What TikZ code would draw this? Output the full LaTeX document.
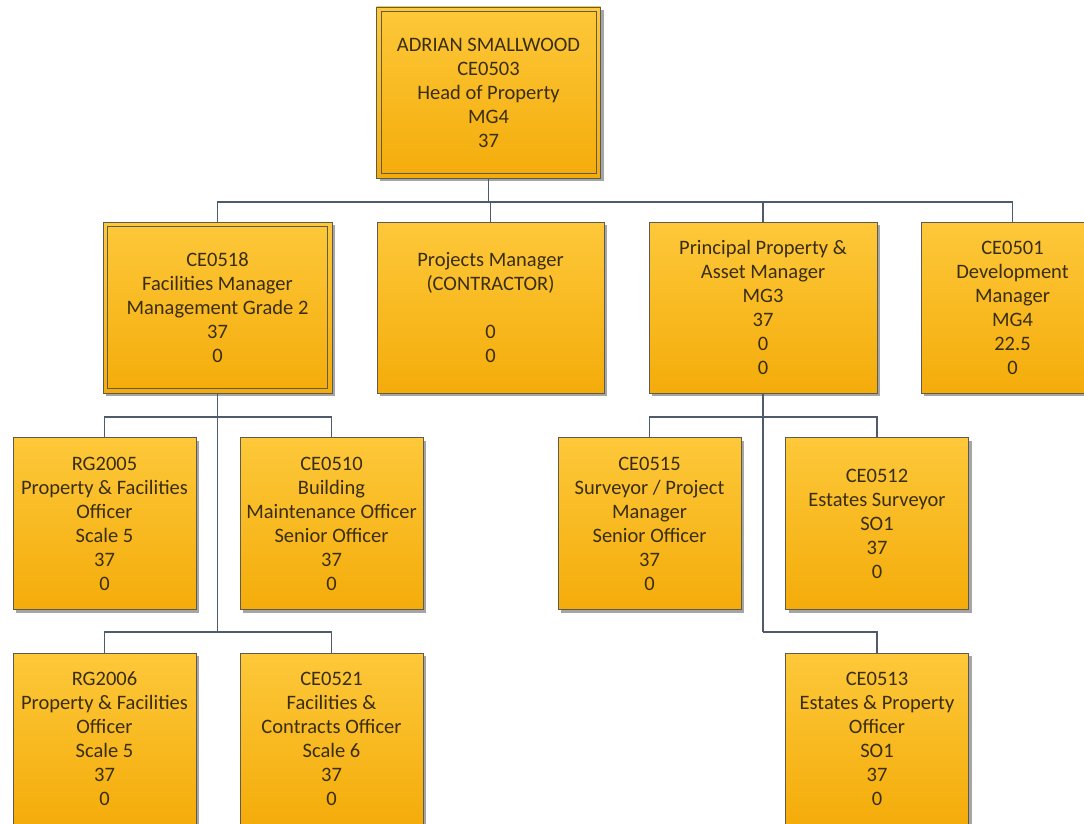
\documentclass[tikz,border=0pt]{standalone}
\usepackage{fontspec}
\setmainfont{Carlito}
\usetikzlibrary{shadows}
\definecolor{boxtop}{HTML}{FDC83A}
\definecolor{boxbot}{HTML}{F4AC0A}
\definecolor{boxborder}{HTML}{5E5A4C}
\definecolor{boxtext}{HTML}{3A2E12}
\definecolor{linkcol}{HTML}{4F5A6B}
\newcommand\orgboxfont{\fontsize{20.5}{24}\selectfont}
\tikzset{
  orgbox/.style={draw=boxborder, line width=0.9pt, top color=boxtop, bottom color=boxbot,
    text=boxtext, align=center, font=\orgboxfont, minimum height=172pt, inner sep=0pt,
    drop shadow={shadow xshift=3pt, shadow yshift=-3pt, opacity=0.5, fill=black!70}},
  widebox/.style={orgbox, minimum width=228pt},
  narrowbox/.style={orgbox, minimum width=183pt},
  innerframe/.style={draw=boxborder, line width=0.9pt},
  link/.style={draw=linkcol, line width=1.8pt}
}
\begin{document}
\begin{tikzpicture}[x=1pt,y=-1pt]
\clip (0,0) rectangle (1084,824);
\fill[white] (0,0) rectangle (1084,824);
% level 1
\node[widebox, minimum width=224pt, minimum height=171pt] (top) at (488.5,92.5)
  {ADRIAN SMALLWOOD\\CE0503\\Head of Property\\MG4\\37};
% level 2
\node[widebox, minimum width=229pt, minimum height=171pt] (fm) at (217.5,307.5)
  {CE0518\\Facilities Manager\\Management Grade 2\\37\\0};
\node[widebox, minimum width=227pt, minimum height=171pt] (pm) at (490.5,307.5)
  {Projects Manager\\(CONTRACTOR)\\\strut\\0\\0};
\node[widebox, minimum height=171pt] (ppam) at (763,307.5)
  {Principal Property \&\\Asset Manager\\MG3\\37\\0\\0};
\node[narrowbox, minimum height=171pt] (dm) at (1012.5,307.5)
  {CE0501\\Development\\Manager\\MG4\\22.5\\0};
% level 3
\node[narrowbox] (rg5) at (104.5,523.5)
  {RG2005\\Property \& Facilities\\Officer\\Scale 5\\37\\0};
\node[narrowbox] (bmo) at (331.5,523.5)
  {CE0510\\Building\\Maintenance Officer\\Senior Officer\\37\\0};
\node[narrowbox] (spm) at (649.5,523.5)
  {CE0515\\Surveyor / Project\\Manager\\Senior Officer\\37\\0};
\node[narrowbox] (es) at (877,523.5)
  {CE0512\\Estates Surveyor\\SO1\\37\\0};
% level 4
\node[narrowbox] (rg6) at (104.5,739)
  {RG2006\\Property \& Facilities\\Officer\\Scale 5\\37\\0};
\node[narrowbox] (fco) at (331.5,739)
  {CE0521\\Facilities \&\\Contracts Officer\\Scale 6\\37\\0};
\node[narrowbox] (epo) at (877,739)
  {CE0513\\Estates \& Property\\Officer\\SO1\\37\\0};
% double frames
\draw[innerframe] ([shift={(5pt,-5pt)}]top.north west) rectangle ([shift={(-5pt,5pt)}]top.south east);
\draw[innerframe] ([shift={(5pt,-5pt)}]fm.north west) rectangle ([shift={(-5pt,5pt)}]fm.south east);
% connectors
\coordinate (bus1) at (488.5,202);
\coordinate (bus2) at (217.5,417);
\coordinate (bus3) at (217.5,632);
\coordinate (bus4) at (763,417);
\coordinate (bus5) at (763,632);
\draw[link] (top.south) -- (bus1);
\draw[link] (bus1) -| (fm.north);
\draw[link] (bus1) -| (pm.north);
\draw[link] (bus1) -| (ppam.north);
\draw[link] (bus1) -| (dm.north);
\draw[link] (fm.south) -- (bus3);
\draw[link] (bus2) -| (rg5.north);
\draw[link] (bus2) -| (bmo.north);
\draw[link] (bus3) -| (rg6.north);
\draw[link] (bus3) -| (fco.north);
\draw[link] (ppam.south) -- (bus5);
\draw[link] (bus4) -| (spm.north);
\draw[link] (bus4) -| (es.north);
\draw[link] (bus5) -| (epo.north);
\end{tikzpicture}
\end{document}
